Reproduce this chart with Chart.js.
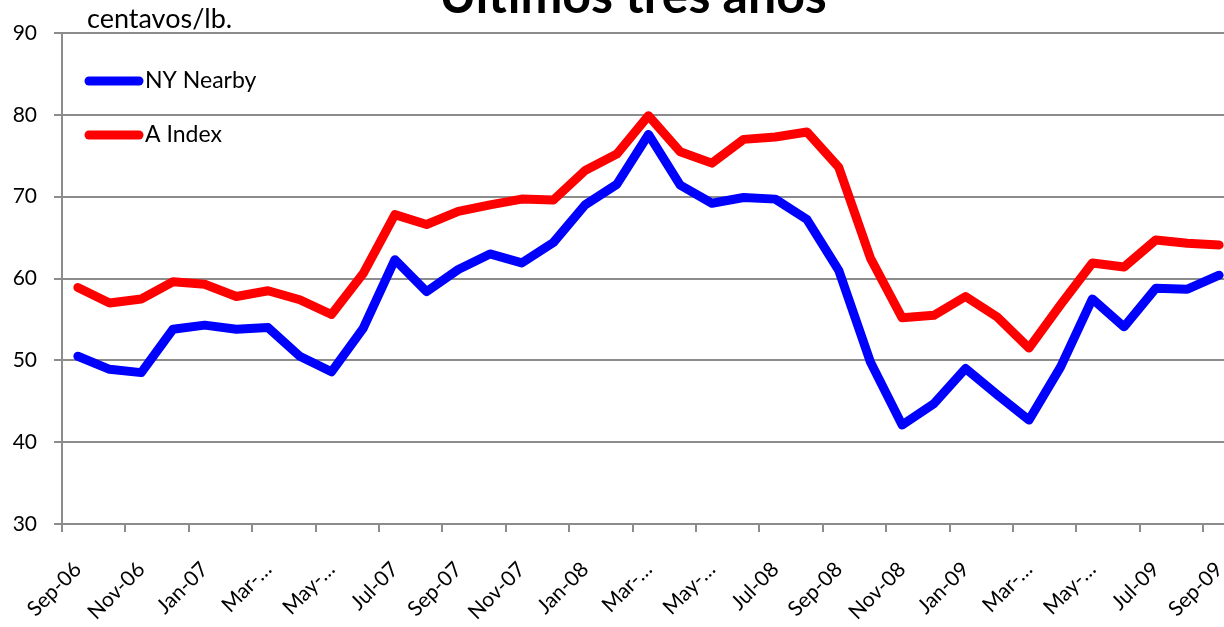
<!DOCTYPE html>
<html>
<head>
<meta charset="utf-8">
<script src="https://cdn.jsdelivr.net/npm/chart.js@4"></script>
<style>
html,body{margin:0;padding:0;background:#fff;overflow:hidden;width:1224px;height:627px;}
#c{position:absolute;left:0;top:-40px;}
</style>
</head>
<body>
<canvas id="c" width="1240" height="667"></canvas>
<script>
const categories = ["Sep-06","Oct-06","Nov-06","Dec-06","Jan-07","Feb-07","Mar-07","Apr-07","May-07","Jun-07","Jul-07","Aug-07","Sep-07","Oct-07","Nov-07","Dec-07","Jan-08","Feb-08","Mar-08","Apr-08","May-08","Jun-08","Jul-08","Aug-08","Sep-08","Oct-08","Nov-08","Dec-08","Jan-09","Feb-09","Mar-09","Apr-09","May-09","Jun-09","Jul-09","Aug-09","Sep-09"];
const tickLabels = ["Sep-06","Nov-06","Jan-07","Mar-…","May-…","Jul-07","Sep-07","Nov-07","Jan-08","Mar-…","May-…","Jul-08","Sep-08","Nov-08","Jan-09","Mar-…","May-…","Jul-09","Sep-09"];
const nyNearby = [50.5,48.9,48.5,53.8,54.3,53.8,54.0,50.5,48.6,53.9,62.3,58.4,61.1,63.0,61.9,64.4,69.0,71.5,77.6,71.4,69.2,69.9,69.7,67.2,61.0,49.8,42.1,44.7,49.0,45.8,42.7,49.2,57.5,54.1,58.8,58.7,60.4];
const aIndex = [58.9,57.0,57.5,59.6,59.3,57.8,58.5,57.4,55.6,60.6,67.8,66.6,68.2,69.0,69.7,69.6,73.2,75.2,79.9,75.5,74.1,77.0,77.3,77.9,73.6,62.5,55.2,55.5,57.8,55.3,51.5,56.8,61.9,61.4,64.7,64.3,64.1];
const yTicks = [30,40,50,60,70,80,90];
const titleText = "Últimos tres años";
const unitText = "centavos/lb.";

const FONT = "Lato, 'Open Sans', sans-serif";
const GRID = "#8c8c8c";

const textPlugin = {
  id: 'texts',
  afterDraw(chart) {
    const ctx = chart.ctx;
    ctx.save();
    ctx.fillStyle = '#000';
    ctx.textBaseline = 'alphabetic';
    ctx.font = "bold 50px " + FONT;
    ctx.textAlign = 'center';
    ctx.fillText(titleText, 633, 53);
    ctx.font = "27px " + FONT;
    ctx.textAlign = 'left';
    ctx.fillText(unitText, 87, 68);
    // legend
    const ys = [121, 175];
    chart.data.datasets.forEach((ds, i) => {
      const y = ys[i];
      ctx.strokeStyle = ds.borderColor;
      ctx.lineWidth = 9;
      ctx.lineCap = 'round';
      ctx.beginPath();
      ctx.moveTo(89, y);
      ctx.lineTo(139, y);
      ctx.stroke();
      ctx.fillStyle = '#000';
      ctx.font = "23px " + FONT;
      ctx.textBaseline = 'middle';
      ctx.fillText(ds.label, 145, y);
    });
    ctx.restore();
  }
};

new Chart(document.getElementById('c'), {
  type: 'line',
  data: {
    labels: categories,
    datasets: [
      {label: 'NY Nearby', data: nyNearby, borderColor: '#0000ff', backgroundColor: '#0000ff', borderWidth: 9, pointRadius: 0, tension: 0, borderJoinStyle: 'round', borderCapStyle: 'round', fill: false},
      {label: 'A Index', data: aIndex, borderColor: '#ff0000', backgroundColor: '#ff0000', borderWidth: 9, pointRadius: 0, tension: 0, borderJoinStyle: 'round', borderCapStyle: 'round', fill: false}
    ]
  },
  options: {
    responsive: false,
    animation: false,
    devicePixelRatio: 1,
    layout: {padding: {top: 73, right: 5, left: 0, bottom: 0}},
    plugins: {legend: {display: false}, title: {display: false}, tooltip: {enabled: false}},
    scales: {
      x: {
        type: 'category',
        offset: true,
        grid: {
          offset: true,
          drawOnChartArea: false,
          drawTicks: true,
          tickLength: 8,
          lineWidth: 2,
          color: (c) => (c.index % 2 === 0 ? GRID : 'rgba(0,0,0,0)')
        },
        border: {display: true, color: GRID, width: 2},
        ticks: {
          autoSkip: false,
          minRotation: 45,
          maxRotation: 45,
          padding: 25,
          color: '#000',
          font: {family: FONT, size: 21},
          callback: (v, i) => (i % 2 === 0 ? tickLabels[i / 2] : '')
        },
        afterFit: (s) => { s.height = 103; s.paddingLeft = 0; s.paddingRight = 0; s.paddingTop = 0; s.paddingBottom = 0; }
      },
      y: {
        min: 30,
        max: 90,
        afterBuildTicks: (s) => { s.ticks = yTicks.map(v => ({value: v})); },
        grid: {color: GRID, lineWidth: 2, tickLength: 8},
        border: {display: true, color: GRID, width: 2},
        ticks: {
          padding: 17,
          color: '#000',
          font: {family: FONT, size: 21}
        },
        afterFit: (s) => { s.width = 62; s.paddingTop = 0; s.paddingBottom = 0; s.paddingLeft = 0; s.paddingRight = 0; }
      }
    }
  },
  plugins: [textPlugin]
});
</script>
</body>
</html>
